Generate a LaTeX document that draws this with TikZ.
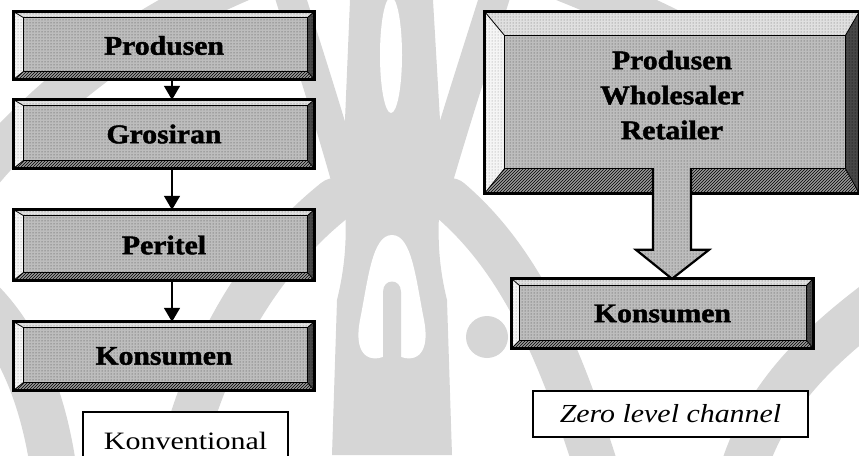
\documentclass[tikz,border=0pt]{standalone}
\usepackage{fontspec}
\setmainfont{Liberation Serif}[BoldFeatures={FakeBold=1.6}]
\usetikzlibrary{calc,arrows.meta,patterns}
\pgfdeclarelayer{wmark}
\pgfdeclarelayer{bevel}
\pgfsetlayers{wmark,bevel,main}
\definecolor{wm}{gray}{0.84}
\newcommand\wide[1]{\scalebox{1.1}[1]{#1}}
\tikzset{
  bvface/.style={fill=black!26, postaction={pattern=dots, pattern color=black!75}},
  bvtop/.style={fill=black!12, postaction={pattern=dots, pattern color=black!60}},
  bvleft/.style={fill=black!4, postaction={pattern=dots, pattern color=black!45}},
  bvbot/.style={fill=black!40, postaction={pattern=north east lines, pattern color=black}},
  bvright/.style={fill=black!72, postaction={pattern=dots, pattern color=black}},
  bx/.style={inner sep=0pt, font=\fontsize{27}{35}\selectfont\bfseries, align=center},
  lab/.style={draw, line width=1.8pt, fill=white, inner sep=0pt},
  larr/.style={line width=1.6pt, -{Triangle[width=16pt,length=14pt]}},
  wmband/.style={draw=wm, line cap=round},
}
% #1 node, #2 left, #3 top, #4 right, #5 bottom
\newcommand\bev[5]{%
  \coordinate (o1) at (#1.north west); \coordinate (o2) at (#1.north east);
  \coordinate (o3) at (#1.south east); \coordinate (o4) at (#1.south west);
  \coordinate (i1) at ($(o1)+(#2,#3)$); \coordinate (i2) at ($(o2)+(-#4,#3)$);
  \coordinate (i3) at ($(o3)+(-#4,-#5)$); \coordinate (i4) at ($(o4)+(#2,-#5)$);
  \path[bvtop] (o1)--(o2)--(i2)--(i1)--cycle;
  \path[bvleft] (o1)--(i1)--(i4)--(o4)--cycle;
  \path[bvbot] (o4)--(i4)--(i3)--(o3)--cycle;
  \path[bvright] (o2)--(o3)--(i3)--(i2)--cycle;
  \path[bvface] (i1)--(i2)--(i3)--(i4)--cycle;
  \draw[line width=0.8pt] (o1)--(i1) (o2)--(i2) (o3)--(i3) (o4)--(i4);
  \draw[line width=1pt] (i1)--(i2)--(i3)--(i4)--cycle;
  \draw[line width=2.8pt] (o1)--(o2)--(o3)--(o4)--cycle;
}
\begin{document}
\begin{tikzpicture}[x=1pt,y=-1pt]
\useasboundingbox (0,0) rectangle (859,455);
% watermark
\begin{pgfonlayer}{wmark}
  \fill[wm] (350,0) -- (433,0) -- (440,120) .. controls (445,200) and (430,230) .. (447,300) -- (452,455) -- (332,455) -- (337,300) .. controls (354,230) and (340,200) .. (345,120) -- cycle;
  \fill[white] (391,55) ellipse [x radius=11, y radius=58];
  \fill[white] (392,235) .. controls (372,235) and (368,280) .. (360,320) .. controls (352,362) and (376,364) .. (392,352) .. controls (408,364) and (432,362) .. (424,320) .. controls (416,280) and (412,235) .. (392,235) -- cycle;
  \fill[wm] (383,364) -- (383,292) .. controls (383,278) and (401,278) .. (401,292) -- (401,364) -- cycle;
  \draw[wmband, line width=30pt] (352,200) .. controls (330,120) and (310,60) .. (285,-20);
  \draw[wmband, line width=30pt] (432,200) .. controls (455,120) and (475,60) .. (500,-20);
  \draw[wmband, line width=40pt] (-20,175) .. controls (60,80) and (150,20) .. (245,-20);
  \draw[wmband, line width=40pt] (560,-20) .. controls (660,20) and (790,80) .. (880,175);
  \draw[wmband, line width=44pt] (335,200) .. controls (260,260) and (205,350) .. (175,480);
  \draw[wmband, line width=44pt] (450,200) .. controls (520,260) and (560,350) .. (600,480);
  \draw[wmband, line width=46pt] (-20,300) .. controls (20,340) and (45,400) .. (55,480);
  \draw[wmband, line width=46pt] (880,300) .. controls (800,360) and (760,410) .. (740,480);
  \fill[wm] (487,337) circle [radius=21];
\end{pgfonlayer}
% left column
\node[bx, minimum width=300pt, minimum height=67pt] (prod) at (164,45.5) {\wide{Produsen}};
\node[bx, minimum width=300pt, minimum height=68pt] (gros) at (164,134) {\wide{Grosiran}};
\node[bx, minimum width=300pt, minimum height=70pt] (peri) at (164,245) {\wide{Peritel}};
\node[bx, minimum width=300pt, minimum height=68pt] (kons) at (164,356) {\wide{Konsumen}};
% right column
\node[inner sep=0pt, minimum width=374pt, minimum height=181pt] (big) at (672,102.5) {};
\node[bx] (bigtxt) at (672,95) {\wide{Produsen}\\\wide{Wholesaler}\\\wide{Retailer}};
\node[bx, minimum width=301pt, minimum height=69pt] (kons2) at (662.5,313.5) {\wide{Konsumen}};
\begin{pgfonlayer}{bevel}
  \bev{prod}{10}{6}{7}{8}
  \bev{gros}{10}{6}{7}{8}
  \bev{peri}{10}{6}{7}{8}
  \bev{kons}{10}{6}{7}{8}
  \bev{big}{20}{24}{14}{25}
  \bev{kons2}{8}{7}{7}{8}
\end{pgfonlayer}
% connectors
\draw[larr] ([xshift=8pt]prod.south) -- ([xshift=8pt]gros.north);
\draw[larr] ([xshift=8pt]gros.south) -- ([xshift=8pt]peri.north);
\draw[larr] ([xshift=8pt]peri.south) -- ([xshift=8pt]kons.north);
% block arrow
\coordinate (bt) at ($(big.south)+(0,-25)$);
\coordinate (tip) at (big.south |- kons2.north);
\path[bvface] ($(bt)+(-19,0)$) -- ($(tip)+(-19,-29)$) -- ($(tip)+(-36,-29)$) -- (tip) -- ($(tip)+(37,-29)$) -- ($(tip)+(19,-29)$) -- ($(bt)+(19,0)$) -- cycle;
\draw[line width=2.2pt, line join=miter] ($(bt)+(-19,0)$) -- ($(tip)+(-19,-29)$) -- ($(tip)+(-36,-29)$) -- (tip) -- ($(tip)+(37,-29)$) -- ($(tip)+(19,-29)$) -- ($(bt)+(19,0)$);
% labels
\node[lab, minimum width=205pt, minimum height=58pt, font=\fontsize{25}{28}\selectfont] (konv) at (185.5,441) {\scalebox{1.2}[1]{Konventional}};
\node[lab, minimum width=275pt, minimum height=46pt, font=\fontsize{26}{30}\selectfont\itshape] (zero) at (670.5,414) {\scalebox{1.15}[1]{Zero level channel}};
\end{tikzpicture}
\end{document}
